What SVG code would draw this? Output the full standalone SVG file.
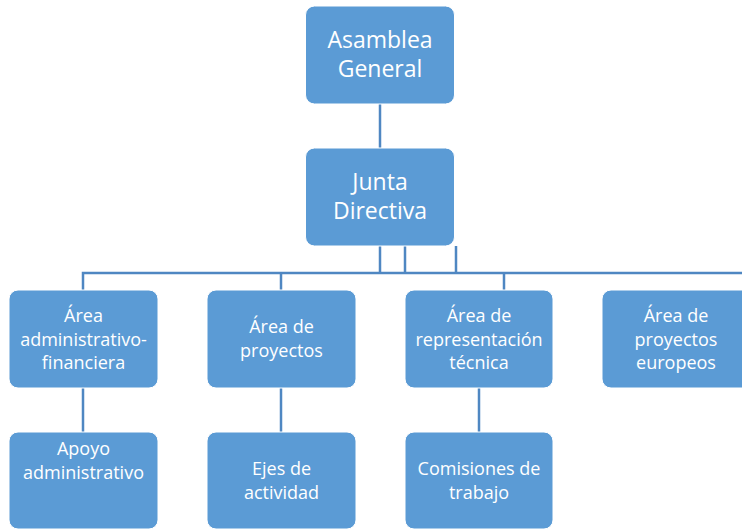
<svg xmlns="http://www.w3.org/2000/svg" width="742" height="529" viewBox="0 0 742 529">
<style>
.box{fill:#5B9BD5;stroke:#ffffff;stroke-width:1}
.t{font-family:"Open Sans","Noto Sans","Liberation Sans",sans-serif;fill:#ffffff;text-anchor:middle}
.big{font-size:23px}
.sm{font-size:18px}
.c{fill:none;stroke:#4F87C2;stroke-width:2.5}
</style>
<rect width="742" height="529" fill="#ffffff"/>
<g id="connectors">
<path class="c" d="M380,104 V148"/>
<path class="c" d="M380,246 V273"/>
<path class="c" d="M405,246 V273"/>
<path class="c" d="M456,246 V273"/>
<path class="c" d="M83,290 V273 H742"/>
<path class="c" d="M281,273 V290"/>
<path class="c" d="M504,273 V290"/>
<path class="c" d="M83,388 V432"/>
<path class="c" d="M281,388 V432"/>
<path class="c" d="M479,388 V432"/>
</g>
<g id="asamblea">
<rect class="box" x="305.5" y="6" width="149" height="98" rx="9"/>
<text class="t big" x="380" y="48">Asamblea</text>
<text class="t big" x="380" y="77">General</text>
</g>
<g id="junta">
<rect class="box" x="305.5" y="148" width="149" height="98" rx="9"/>
<text class="t big" x="380" y="190">Junta</text>
<text class="t big" x="380" y="219">Directiva</text>
</g>
<g id="area-admin">
<rect class="box" x="9" y="290" width="149" height="98" rx="9"/>
<text class="t sm" x="83.5" y="322">Área</text>
<text class="t sm" x="83.5" y="345.5">administrativo-</text>
<text class="t sm" x="83.5" y="369">financiera</text>
</g>
<g id="area-proyectos">
<rect class="box" x="207" y="290" width="149" height="98" rx="9"/>
<text class="t sm" x="281.5" y="333">Área de</text>
<text class="t sm" x="281.5" y="357">proyectos</text>
</g>
<g id="area-representacion">
<rect class="box" x="405" y="290" width="148" height="98" rx="9"/>
<text class="t sm" x="479" y="322">Área de</text>
<text class="t sm" x="479" y="345.5">representación</text>
<text class="t sm" x="479" y="369">técnica</text>
</g>
<g id="area-europeos">
<rect class="box" x="602" y="290" width="149" height="98" rx="9"/>
<text class="t sm" x="676" y="322">Área de</text>
<text class="t sm" x="676" y="345.5">proyectos</text>
<text class="t sm" x="676" y="369">europeos</text>
</g>
<g id="apoyo">
<rect class="box" x="9" y="432" width="149" height="97" rx="9"/>
<text class="t sm" x="83.5" y="455">Apoyo</text>
<text class="t sm" x="83.5" y="479">administrativo</text>
</g>
<g id="ejes">
<rect class="box" x="207" y="432" width="149" height="97" rx="9"/>
<text class="t sm" x="281.5" y="475">Ejes de</text>
<text class="t sm" x="281.5" y="499">actividad</text>
</g>
<g id="comisiones">
<rect class="box" x="405" y="432" width="148" height="97" rx="9"/>
<text class="t sm" x="479" y="475">Comisiones de</text>
<text class="t sm" x="479" y="499">trabajo</text>
</g>
</svg>
